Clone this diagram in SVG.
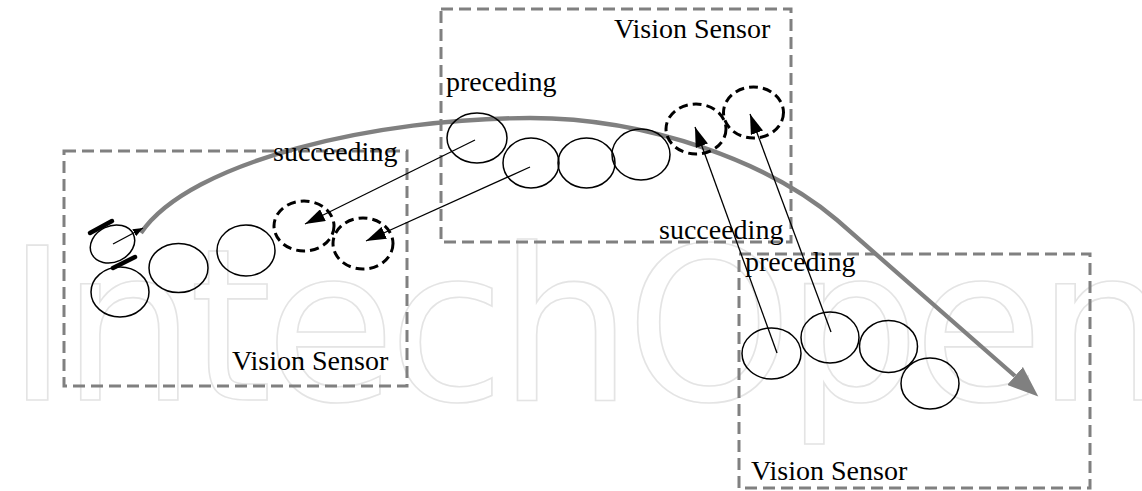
<svg xmlns="http://www.w3.org/2000/svg" width="1142" height="491" viewBox="0 0 1142 491">
  <style>
    .box { fill: none; stroke: #808080; stroke-width: 3; stroke-dasharray: 12 6; }
    .obj { fill: none; stroke: #000; stroke-width: 1.5; }
    .ghost { fill: none; stroke: #000; stroke-width: 3; stroke-dasharray: 9 5; }
    .lbl { font-family: "Liberation Serif", "Times New Roman", serif; font-size: 28px; fill: #000; }
    .ptr { fill: none; stroke: #000; stroke-width: 1.3; marker-end: url(#head); }
    .bar { stroke: #000; stroke-width: 4.5; stroke-linecap: round; }
    .mark { font-family: "DejaVu Sans", sans-serif; font-size: 212px; fill: none; stroke: #e4e4e4; stroke-width: 1.6; }
  </style>
  <defs>
    <marker id="head" markerUnits="userSpaceOnUse" markerWidth="20" markerHeight="13" refX="20" refY="6.5" orient="auto">
      <path d="M0,0 L20,6.5 L0,13 z" fill="#000"/>
    </marker>
    <marker id="headSmall" markerUnits="userSpaceOnUse" markerWidth="10" markerHeight="8" refX="10" refY="4" orient="auto">
      <path d="M0,0 L10,4 L0,8 z" fill="#000"/>
    </marker>
    <marker id="pathHead" markerUnits="userSpaceOnUse" markerWidth="32" markerHeight="24" refX="0" refY="12" orient="auto">
      <path d="M0,0 L31,12 L0,24 z" fill="#808080"/>
    </marker>
  </defs>

  <rect width="1142" height="491" fill="#fff"/>

  <!-- background mark -->
  <text class="mark" x="6" y="400" textLength="1165" lengthAdjust="spacing">IntechOpen</text>

  <!-- sensor fields of view -->
  <g id="sensor-left">
    <rect class="box" x="64" y="151" width="343" height="235"/>
    <text class="lbl" x="232" y="370">Vision Sensor</text>
  </g>
  <g id="sensor-top">
    <rect class="box" x="441" y="9" width="350" height="233"/>
    <text class="lbl" x="614" y="38">Vision Sensor</text>
  </g>
  <g id="sensor-right">
    <rect class="box" x="739" y="254" width="351" height="234"/>
    <text class="lbl" x="751" y="480">Vision Sensor</text>
  </g>

  <!-- motion path and links -->
  <g id="connectors">
    <path d="M141,233 C190,160 380,118 530,118 C650,118 770,163 837,220 L1015,376" fill="none" stroke="#808080" stroke-width="4.3" marker-end="url(#pathHead)"/>
    <line x1="113" y1="244" x2="143" y2="228" stroke="#000" stroke-width="1.3" marker-end="url(#headSmall)"/>
    <line class="ptr" x1="475" y1="140" x2="305" y2="224"/>
    <line class="ptr" x1="530" y1="167" x2="366" y2="241"/>
    <line class="ptr" x1="777" y1="353" x2="695" y2="127"/>
    <line class="ptr" x1="831" y1="332" x2="750" y2="114"/>
  </g>

  <!-- left view -->
  <g id="obj-left-0">
    <ellipse class="obj" cx="112.5" cy="244" rx="23" ry="18" transform="rotate(-25 112.5 244)"/>
    <line class="bar" x1="90" y1="233" x2="112" y2="221"/>
    <line class="bar" x1="113" y1="268" x2="135" y2="257"/>
  </g>
  <g id="obj-left-1"><ellipse class="obj" cx="120" cy="292" rx="29" ry="25"/></g>
  <g id="obj-left-2"><ellipse class="obj" cx="178.5" cy="268" rx="29.5" ry="24.5"/></g>
  <g id="obj-left-3"><ellipse class="obj" cx="246" cy="250.5" rx="29" ry="25.5"/></g>
  <g id="obj-left-4"><ellipse class="ghost" cx="304" cy="226" rx="30" ry="25"/></g>
  <g id="obj-left-5"><ellipse class="ghost" cx="363" cy="243.5" rx="30" ry="25.5"/></g>
  <g id="label-left-succ"><text class="lbl" x="273" y="161">succeeding</text></g>

  <!-- top view -->
  <g id="obj-top-1"><ellipse class="obj" cx="477" cy="138" rx="30" ry="25"/></g>
  <g id="obj-top-2"><ellipse class="obj" cx="531" cy="163" rx="28" ry="25"/></g>
  <g id="obj-top-3"><ellipse class="obj" cx="586.5" cy="163" rx="28.5" ry="25"/></g>
  <g id="obj-top-4"><ellipse class="obj" cx="641" cy="154.5" rx="29" ry="25.5"/></g>
  <g id="obj-top-5"><ellipse class="ghost" cx="696" cy="129" rx="30" ry="25"/></g>
  <g id="obj-top-6"><ellipse class="ghost" cx="753.5" cy="112.5" rx="30" ry="25.5"/></g>
  <g id="label-top-prec"><text class="lbl" x="446" y="91">preceding</text></g>
  <g id="label-top-succ"><text class="lbl" x="659" y="239">succeeding</text></g>

  <!-- right view -->
  <g id="obj-right-1"><ellipse class="obj" cx="771.5" cy="353.5" rx="29.5" ry="25.5"/></g>
  <g id="obj-right-2"><ellipse class="obj" cx="830" cy="337.5" rx="29" ry="25.5"/></g>
  <g id="obj-right-3"><ellipse class="obj" cx="888.5" cy="346.5" rx="29" ry="26"/></g>
  <g id="obj-right-4"><ellipse class="obj" cx="930" cy="383.5" rx="29" ry="25.5"/></g>
  <g id="label-right-prec"><text class="lbl" x="745" y="271">preceding</text></g>
</svg>
